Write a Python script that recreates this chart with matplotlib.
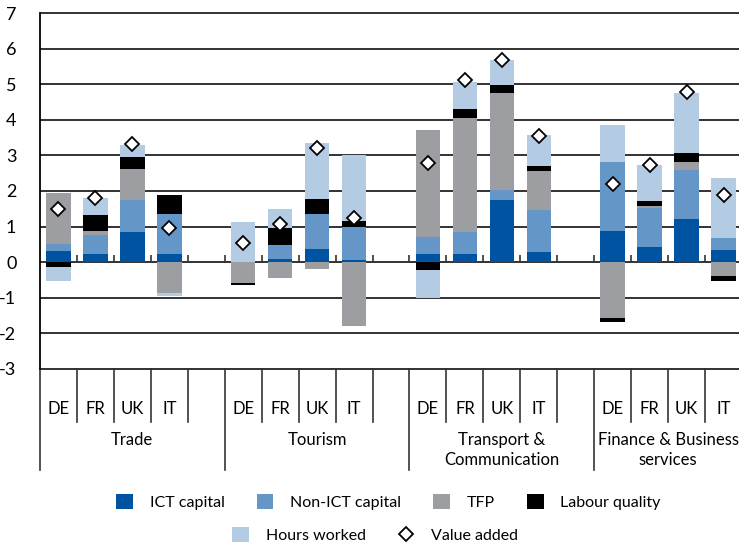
import numpy as np
import matplotlib
matplotlib.use('Agg')
import matplotlib.pyplot as plt
from matplotlib.patches import Patch
from matplotlib.lines import Line2D

plt.rcParams['font.family'] = ['Lato', 'DejaVu Sans']

countries = ['DE', 'FR', 'UK', 'IT']
sectors = ['Trade', 'Tourism', 'Transport &\nCommunication', 'Finance & Business\nservices']

# order: Trade DE FR UK IT, Tourism ..., Transport ..., Finance ...
ict = [0.31, 0.22, 0.84, 0.22, 0.00, 0.08, 0.37, 0.05,
       0.23, 0.23, 1.74, 0.28, 0.87, 0.42, 1.21, 0.34]
non_ict = [0.20, 0.53, 0.92, 1.13, 0.00, 0.39, 0.98, 0.95,
           0.48, 0.62, 0.30, 1.18, 1.94, 1.11, 1.38, 0.34]
tfp = [1.44, 0.12, 0.85, -0.87, -0.59, -0.44, -0.20, -1.79,
       3.01, 3.21, 2.71, 1.10, -1.58, 0.06, 0.23, -0.39]
labour = [-0.14, 0.45, 0.34, 0.53, -0.05, 0.49, 0.42, 0.16,
          -0.22, 0.25, 0.23, 0.14, -0.10, 0.14, 0.25, -0.13]
hours = [-0.39, 0.48, 0.34, -0.08, 1.13, 0.53, 1.58, 1.86,
         -0.79, 0.76, 0.70, 0.87, 1.04, 1.00, 1.69, 1.69]
value_added = [1.48, 1.81, 3.32, 0.95, 0.54, 1.07, 3.21, 1.23,
               2.78, 5.12, 5.68, 3.56, 2.20, 2.74, 4.78, 1.89]

series = [('ICT capital', ict, '#0053a0'),
          ('Non-ICT capital', non_ict, '#6497c7'),
          ('TFP', tfp, '#9d9ea1'),
          ('Labour quality', labour, '#000000'),
          ('Hours worked', hours, '#b3cce4')]

# 5 slots per sector (4 countries + gap), last sector has 4
xpos = np.array([5 * g + c + 0.5 for g in range(4) for c in range(4)])
nslots = 19

fig = plt.figure(figsize=(7.39, 5.47), dpi=100)
ax = fig.add_axes([40 / 739, 1 - 368.7 / 547, 702 / 739, 355.4 / 547])

ax.hlines(range(-3, 8), 0, nslots, color='#222222', lw=1.3, zorder=0.5, clip_on=False)

pos = np.zeros(len(xpos))
neg = np.zeros(len(xpos))
for name, vals, col in series:
    v = np.array(vals)
    bottom = np.where(v >= 0, pos, neg)
    ax.bar(xpos, v, 0.66, bottom=bottom, color=col, zorder=2)
    pos = np.where(v >= 0, pos + v, pos)
    neg = np.where(v < 0, neg + v, neg)

ax.plot(xpos, value_added, ls='none', marker='D', ms=7, mfc='white',
        mec='black', mew=1.3, zorder=4)

# small tick marks on the zero line
ax.vlines(range(1, nslots), 0, 0.2, color='#333333', lw=1.2, zorder=3)

ax.set_xlim(0, nslots)
ax.set_ylim(-3, 7)
ax.set_xticks([])
ax.set_yticks(range(-3, 8))
ax.set_yticklabels([str(t) for t in range(-3, 8)], fontsize=13)
ax.tick_params(axis='y', length=0, pad=17)
for s in ['top', 'right', 'bottom']:
    ax.spines[s].set_visible(False)
ax.spines['left'].set_color('black')
ax.spines['left'].set_linewidth(1.3)

# category axis below the plot
for i in range(nslots):
    if i % 5 == 0:
        ax.plot([i, i], [-3, -5.86], color='#333333', lw=1.2, clip_on=False)
    else:
        ax.plot([i, i], [-3, -4.5], color='#333333', lw=1.2, clip_on=False)
for x, k in zip(xpos, range(len(xpos))):
    ax.text(x, -4.14, countries[k % 4], ha='center', va='center',
            fontsize=12, clip_on=False)
sector_centers = [2.5, 7.5, 12.5, 17.0]
for xc, name in zip(sector_centers, sectors):
    ax.text(xc, -4.77, name, ha='center', va='top', fontsize=12,
            linespacing=1.35, clip_on=False)

h1 = [Patch(facecolor=c, edgecolor='none', label=n) for n, _, c in series[:4]]
h2 = [Patch(facecolor=series[4][2], edgecolor='none', label=series[4][0]),
      Line2D([], [], ls='none', marker='D', ms=7, mfc='white', mec='black',
             mew=1.3, label='Value added')]
kw = dict(frameon=False, fontsize=11.5, handlelength=1.05, handleheight=1.05,
          handletextpad=1.05, columnspacing=2.0, borderpad=0, loc='center')
fig.legend(handles=h1, ncol=4, bbox_to_anchor=(388.5 / 739, 1 - 502 / 547), **kw)
fig.legend(handles=h2, ncol=2, bbox_to_anchor=(375 / 739, 1 - 535 / 547), **kw)

fig.savefig('out.png', dpi=100)
